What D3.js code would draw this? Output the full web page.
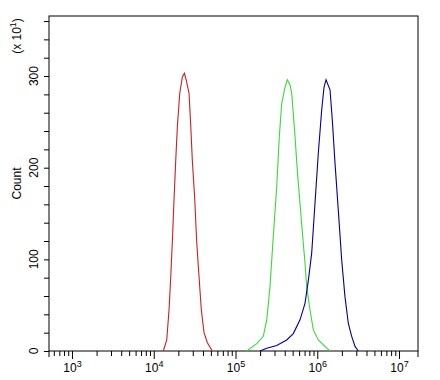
<!DOCTYPE html>
<html>
<head>
<meta charset="utf-8">
<script src="https://cdn.jsdelivr.net/npm/d3@7"></script>
<style>
  body { margin: 0; background: #fff; }
  text { font-family: "Liberation Sans", Arial, sans-serif; }
</style>
</head>
<body>
<script>
// x values are log10 of fluorescence intensity, y values are counts (x10)
var redX   = [4.117, 4.159, 4.187, 4.208, 4.227, 4.248, 4.269, 4.289, 4.318, 4.350, 4.375, 4.399, 4.432, 4.453, 4.472, 4.502, 4.526, 4.554, 4.582, 4.615, 4.656, 4.717];
var redY   = [0, 12, 45, 81, 118, 165, 208, 245, 281, 299, 303, 295, 281, 245, 208, 165, 118, 81, 45, 20, 9, 0];

var greenX = [5.137, 5.259, 5.340, 5.382, 5.422, 5.462, 5.504, 5.536, 5.565, 5.606, 5.634, 5.667, 5.688, 5.728, 5.756, 5.789, 5.822, 5.850, 5.871, 5.911, 5.952, 6.013, 6.095, 6.156];
var greenY = [0, 8, 16, 34, 70, 125, 179, 234, 270, 288, 296, 290, 281, 234, 197, 161, 125, 96, 70, 45, 23, 12, 5, 0];

var blueX  = [5.300, 5.382, 5.504, 5.626, 5.707, 5.789, 5.850, 5.891, 5.932, 5.972, 6.013, 6.054, 6.083, 6.107, 6.156, 6.184, 6.217, 6.257, 6.299, 6.339, 6.380, 6.421, 6.462, 6.502];
var blueY  = [0, 3, 6, 12, 19, 34, 52, 77, 107, 161, 216, 263, 288, 296, 285, 252, 205, 154, 99, 59, 30, 16, 5, 0];

var xMajor = [3, 4, 5, 6, 7];
var yMajor = [0, 100, 200, 300];

var svgWidth = 440, svgHeight = 380;
var margin = {top: 16, right: 22, bottom: 29, left: 49};
var width = svgWidth - margin.left - margin.right;
var height = svgHeight - margin.top - margin.bottom;

var svg = d3.select("body").append("svg")
  .attr("width", svgWidth)
  .attr("height", svgHeight)
  .style("background", "#fff");

var chart = svg.append("g")
  .attr("transform", "translate(" + margin.left + "," + margin.top + ")");

var x = d3.scaleLog()
  .domain([Math.pow(10, 2.719), Math.pow(10, 7.232)])
  .range([0, width]);

var y = d3.scaleLinear()
  .domain([0, 365.5])
  .range([height, 0]);

// minor x ticks
var minor = [];
for (var e = 2; e <= 7; e++) {
  for (var m = 2; m <= 9; m++) {
    var v = m * Math.pow(10, e);
    if (v >= x.domain()[0] && v <= x.domain()[1]) minor.push(v);
  }
}

chart.append("g")
  .attr("transform", "translate(0," + height + ")")
  .call(d3.axisBottom(x).tickValues(minor).tickSize(5).tickFormat(""))
  .call(g => g.select(".domain").remove());

var xAxis = chart.append("g")
  .attr("transform", "translate(0," + height + ")")
  .call(d3.axisBottom(x).tickValues(xMajor.map(d => Math.pow(10, d))).tickSize(8).tickFormat(""))
  .call(g => g.select(".domain").remove());

xAxis.selectAll(".tick").append("text")
  .attr("y", 21)
  .attr("fill", "#000")
  .attr("font-size", "12px")
  .attr("text-anchor", "middle")
  .each(function(d) {
    var t = d3.select(this);
    t.append("tspan").text("10");
    t.append("tspan").attr("font-size", "9px").attr("dy", "-5").text(Math.round(Math.log10(d)));
  });

// y ticks
chart.append("g")
  .call(d3.axisLeft(y).tickValues(d3.range(0, 361, 20)).tickSize(5).tickFormat(""))
  .call(g => g.select(".domain").remove());

chart.append("g")
  .selectAll("text")
  .data(yMajor)
  .enter()
  .append("text")
  .attr("transform", d => "translate(-11," + y(d) + ") rotate(-90)")
  .attr("text-anchor", "middle")
  .attr("font-size", "12px")
  .text(d => d);

// frame
chart.append("rect")
  .attr("width", width)
  .attr("height", height)
  .attr("fill", "none")
  .attr("stroke", "#000")
  .attr("stroke-width", 1);

chart.append("line").attr("x1", 0).attr("x2", 0).attr("y1", height).attr("y2", height + 6).attr("stroke", "#000");
chart.append("line").attr("x1", width).attr("x2", width).attr("y1", height).attr("y2", height + 6).attr("stroke", "#000");

// curves
var line = d3.line()
  .x(d => x(Math.pow(10, d[0])))
  .y(d => y(d[1]));

var series = [
  {xs: redX, ys: redY, color: "#cc1f1f"},
  {xs: greenX, ys: greenY, color: "#3ad93a"},
  {xs: blueX, ys: blueY, color: "#000099"}
];

series.forEach(function(s) {
  chart.append("path")
    .datum(s.xs.map((v, i) => [v, s.ys[i]]))
    .attr("d", line)
    .attr("fill", "none")
    .attr("stroke", s.color)
    .attr("stroke-width", 1.1);
});

// axis labels
svg.append("text")
  .attr("transform", "translate(21," + (margin.top + height / 2) + ") rotate(-90)")
  .attr("text-anchor", "middle")
  .attr("font-size", "12px")
  .text("Count");

var mult = svg.append("text")
  .attr("transform", "translate(21,36) rotate(-90)")
  .attr("text-anchor", "middle")
  .attr("font-size", "12px");
mult.append("tspan").text("(x 10");
mult.append("tspan").attr("font-size", "9px").attr("dy", "-5").text("1");
mult.append("tspan").attr("dy", "5").text(")");
</script>
</body>
</html>
